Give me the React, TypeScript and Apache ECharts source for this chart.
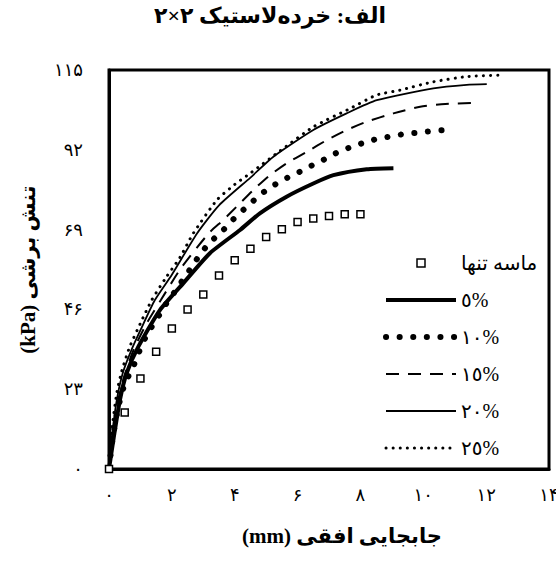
import React, { useEffect, useRef } from "react";
import * as echarts from "echarts";

// ---------- data ----------
const titleText = "الف: خرده‌لاستیک ۲×۲";
const xAxisTitle = "(mm) جابجایی افقی";
const yAxisTitle = "(kPa) تنش برشی";

const seriesNames = ["ماسه تنها", "٥%", "۱۰%", "۱٥%", "۲۰%", "۲٥%"];

const xTickLabels = ["۰", "۲", "۴", "۶", "۸", "۱۰", "۱۲", "۱۴"];
const yTickLabels = ["۰", "۲۳", "۴۶", "۶۹", "۹۲", "۱۱۵"];

// sand only (squares)
const sandX = [0, 0.5, 1, 1.5, 2, 2.5, 3, 3.5, 4, 4.5, 5, 5.5, 6, 6.5, 7, 7.5, 8];
const sandY = [0, 16.3, 26.1, 33.8, 40.5, 46.0, 50.3, 55.8, 60.2, 63.5, 66.9, 69.1, 71.2, 72.2, 72.9, 73.4, 73.4];

// 5 %
const c5X = [0, 0.15, 0.35, 0.56, 0.93, 1.62, 2.36, 3.21, 4.17, 4.8, 5.65, 6.5, 7.14, 8.2, 9.05];
const c5Y = [0, 9, 20, 27.6, 35.2, 45.8, 53.5, 62.2, 68.9, 73.7, 78.5, 82.3, 84.7, 86.4, 86.7];

// 10 %
const c10X = [0, 0.12, 0.3, 0.5, 0.77, 0.96, 1.15, 1.36, 1.6, 1.83, 2.07, 2.31, 2.56, 2.79, 3.05, 3.32, 3.64, 3.96, 4.3, 4.62, 4.98, 5.34, 5.71, 6.08, 6.48, 6.87, 7.26, 7.67, 8.09, 8.52, 8.94, 9.36, 9.79, 10.27, 10.69];
const c10Y = [0, 9, 18, 24.5, 29.5, 33.8, 37.7, 41, 44.4, 47.8, 50.8, 54, 57.3, 60.4, 63.6, 66.2, 68.9, 72, 74.9, 77.5, 80.2, 82.3, 84.1, 85.7, 87.6, 89.3, 91.2, 92.7, 94, 95.1, 95.8, 96.5, 96.9, 97.4, 97.7];

// 15 %
const c15X = [0, 0.1, 0.25, 0.45, 0.78, 1.2, 1.65, 2.3, 3.17, 3.64, 4.06, 4.59, 5.12, 5.65, 6.29, 6.93, 7.56, 8.2, 9.05, 9.9, 10.7, 11.55];
const c15Y = [0, 9, 18, 25.6, 34.3, 42, 48.7, 58, 67.9, 71.8, 75.6, 80.4, 84.7, 88.1, 91.4, 94.8, 97.7, 100.1, 102.5, 104.4, 105.2, 105.5];

// 20 %
const c20X = [0, 0.1, 0.25, 0.45, 0.7, 1, 1.46, 2, 2.8, 3.5, 4.5, 5.23, 6.5, 7.56, 8.52, 10.32, 11.38, 12.02];
const c20Y = [0, 10, 20, 28, 34, 40, 48.7, 56, 67.9, 76, 84, 90, 97.7, 102.5, 106.3, 109.7, 110.7, 110.9];

// 25 %
const c25X = [0, 0.1, 0.25, 0.4, 0.65, 1, 1.36, 1.8, 2.26, 2.68, 3.43, 4, 4.49, 5.55, 6.5, 7.67, 8.52, 9.26, 10.32, 11.38, 12.39];
const c25Y = [0, 12, 22, 28, 35, 42, 48.7, 55, 61, 67.9, 77.5, 82, 85.2, 92.4, 98.6, 103.9, 107.8, 109.2, 111.6, 113.1, 113.5];

const zip = (xs: number[], ys: number[]) => xs.map((x, i) => [x, ys[i]]);

const FONT = "'Liberation Serif', 'DejaVu Sans', serif";

// line styles (shared by series and legend)
const ls5 = { color: "#000", width: 4 };
const ls10 = { color: "#000", width: 6, type: [0.1, 13.5], cap: "round" };
const ls15 = { color: "#000", width: 2, type: [13, 9] };
const ls20 = { color: "#000", width: 1.8 };
const ls25 = { color: "#000", width: 3, type: [0.1, 7], cap: "round" };

export default function App() {
  const ref = useRef<HTMLDivElement>(null);

  useEffect(() => {
    if (!ref.current) return;
    const chart = echarts.init(ref.current, undefined, { renderer: "svg" });

    const lineBase = {
      type: "line" as const,
      symbol: "none",
      smooth: 0.2,
      silent: true,
      z: 3,
      itemStyle: { color: "#000" },
    };

    chart.setOption({
      animation: false,
      backgroundColor: "#fff",
      textStyle: { fontFamily: FONT, color: "#000" },
      title: {
        text: titleText,
        left: 270,
        textAlign: "center",
        top: 4,
        padding: 0,
        textStyle: { fontFamily: FONT, fontSize: 22, fontWeight: "bold", color: "#000" },
      },
      grid: {
        left: 109,
        right: 7,
        top: 70,
        bottom: 95,
        show: true,
        borderColor: "#000",
        borderWidth: 3,
        containLabel: false,
        outerBoundsMode: "none",
      },
      legend: {
        orient: "vertical",
        left: 383,
        top: 253,
        padding: 0,
        itemWidth: 70,
        itemHeight: 10,
        itemGap: 17,
        selectedMode: false,
        textStyle: { fontFamily: FONT, fontSize: 20, color: "#000" },
        data: [
          {
            name: seriesNames[0],
            itemStyle: { color: "#fff", borderColor: "#000", borderWidth: 1.5 },
            lineStyle: { opacity: 0, width: 0 },
          },
          { name: seriesNames[1], itemStyle: { opacity: 0 }, lineStyle: ls5 },
          { name: seriesNames[2], itemStyle: { opacity: 0 }, lineStyle: ls10 },
          { name: seriesNames[3], itemStyle: { opacity: 0 }, lineStyle: ls15 },
          { name: seriesNames[4], itemStyle: { opacity: 0 }, lineStyle: ls20 },
          { name: seriesNames[5], itemStyle: { opacity: 0 }, lineStyle: ls25 },
        ],
      },
      xAxis: {
        type: "value",
        min: 0,
        max: 14,
        interval: 2,
        axisLine: { show: true, onZero: false, lineStyle: { color: "#000", width: 3 } },
        axisTick: { show: false },
        splitLine: { show: false },
        axisLabel: {
          margin: 17,
          fontSize: 18,
          color: "#000",
          fontFamily: FONT,
          formatter: (v: number) => xTickLabels[Math.round(v / 2)] ?? "",
        },
        name: xAxisTitle,
        nameLocation: "middle",
        nameGap: 56,
        nameTextStyle: {
          fontFamily: FONT,
          fontSize: 21,
          fontWeight: "bold",
          color: "#000",
          padding: [0, 0, 0, 26],
        },
      },
      yAxis: {
        type: "value",
        min: 0,
        max: 115,
        interval: 23,
        axisLine: { show: true, onZero: false, lineStyle: { color: "#000", width: 3 } },
        axisTick: { show: false },
        splitLine: { show: false },
        axisLabel: {
          margin: 26,
          fontSize: 18,
          color: "#000",
          fontFamily: FONT,
          formatter: (v: number) => yTickLabels[Math.round(v / 23)] ?? "",
        },
        name: yAxisTitle,
        nameLocation: "middle",
        nameGap: 71,
        nameTextStyle: { fontFamily: FONT, fontSize: 21, fontWeight: "bold", color: "#000" },
      },
      series: [
        {
          name: seriesNames[0],
          type: "line",
          data: zip(sandX, sandY),
          symbol: "rect",
          symbolSize: 7,
          showSymbol: true,
          silent: true,
          z: 4,
          lineStyle: { width: 0, opacity: 0 },
          itemStyle: { color: "#fff", borderColor: "#000", borderWidth: 1.5 },
        },
        { ...lineBase, name: seriesNames[1], data: zip(c5X, c5Y), lineStyle: ls5 },
        { ...lineBase, name: seriesNames[2], data: zip(c10X, c10Y), lineStyle: ls10 },
        { ...lineBase, name: seriesNames[3], data: zip(c15X, c15Y), lineStyle: ls15 },
        { ...lineBase, name: seriesNames[4], data: zip(c20X, c20Y), lineStyle: ls20 },
        { ...lineBase, name: seriesNames[5], data: zip(c25X, c25Y), lineStyle: ls25 },
      ],
    });

    return () => chart.dispose();
  }, []);

  return (
    <div
      ref={ref}
      style={{ position: "fixed", left: 0, top: 0, width: 556, height: 564, background: "#fff" }}
    />
  );
}
